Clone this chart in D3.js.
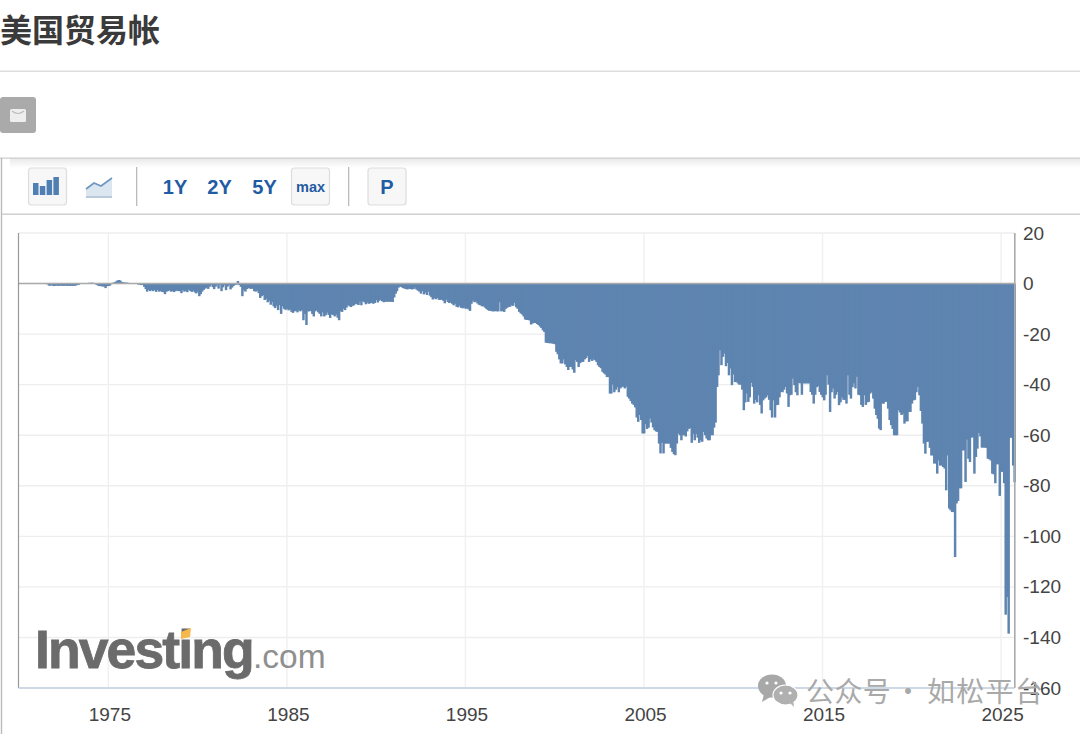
<!DOCTYPE html>
<html><head><meta charset="utf-8">
<style>html,body{margin:0;padding:0;background:#fff;overflow:hidden}svg{display:block}</style>
<script src="https://cdn.jsdelivr.net/npm/d3@7"></script></head><body>
<svg id="c" width="1080" height="734"></svg>
<script>
const title = "美国贸易帐";
const rangeLabels = ["1Y","2Y","5Y"];
const xTickYears = [1975,1985,1995,2005,2015,2025];
const yTicks = [20,0,-20,-40,-60,-80,-100,-120,-140,-160];
const firstYear = 1970;
// Monthly balance (billions USD), one row per year on the axis
const y1970s = [
 [0,0,0,0.2,0.2,0.2,0.2,0.2,0.2,0.2,0.1,0.1],
 [0.1,0,0,0,0,0,-0.2,-0.3,-0.8,-0.9,-0.4,-1],
 [-0.9,-0.8,-0.9,-0.9,-0.8,-0.9,-0.9,-0.8,-0.9,-0.9,-0.9,-0.9],
 [-0.9,-0.9,-0.8,-0.6,-0.5,0,0,0,0,0.1,0.2,0.3],
 [0.3,0.3,0.3,0.2,-0.5,-0.8,-1,-1,-1.2,-1.1,-1.8,-1],
 [-1,-0.8,-0.2,0.3,0.5,0.8,1.2,1.4,1.2,0.6,0.5,0.4],
 [0.4,0.3,0,-0.1,0,-0.1,-0.1,-0.1,-0.4,-0.4,-0.6,-0.5],
 [-1.3,-2.2,-3.2,-2.5,-3,-2.6,-3,-2.5,-3.3,-2.6,-3.2,-3],
 [-3.3,-3.4,-4.2,-3.2,-3,-2.7,-3.2,-3,-3.4,-3,-2.8,-3],
 [-3,-3.8,-2.5,-3.2,-2.9,-3.4,-2.4,-2.9,-3.3,-2.8,-3.5,-3.9]];
const y1980s = [
 [-3.3,-5,-4.2,-3.2,-2.5,-2,-1.6,-2.1,-1.2,-0.5,-1.4,-2.2],
 [-1.2,-0.4,-2,-0.4,-3,-1.5,-0.6,-2.6,-1.2,-0.6,-2.3,-1.6],
 [-1,-0.5,-0.5,1,-0.6,-1.3,-5,-2.6,-3.2,-2.2,-1.8,-2],
 [-2.1,-2,-3,-3.2,-2.8,-3.8,-5.7,-5,-4.6,-6.5,-6,-7.4],
 [-6.8,-8.4,-7.3,-9,-9.7,-8.8,-10.5,-8.5,-12,-9,-10,-10.4],
 [-10,-10.6,-10.2,-11.2,-11.6,-11,-10.8,-11.4,-10.6,-11,-10.5,-14.5],
 [-12,-16.4,-11,-11,-10.8,-12,-13,-11,-10.6,-11.4,-12,-13],
 [-11.4,-13,-12.5,-11.5,-12.4,-13.6,-12.2,-12.4,-13,-12.3,-13.5,-14.5],
 [-11,-11.2,-10,-10.5,-9.5,-8.5,-9,-9.3,-8.8,-8.6,-8,-8.2],
 [-8.5,-7.2,-8.6,-7,-7.4,-8.2,-7.6,-8,-7.8,-7.6,-8,-7.7]];
const y1990s = [
 [-6.6,-7.5,-6.8,-6.5,-7,-7.4,-7.2,-7.2,-7.2,-7.2,-7.2,-7.3],
 [-5.5,-4,-3,-1.6,-1.2,-1.4,-1.8,-2,-2.2,-2.3,-2,-2.2],
 [-2.3,-2.2,-1.6,-2.4,-2.8,-3.2,-4,-3,-4.3,-3.6,-4.5,-3.2],
 [-4.8,-5.4,-6.3,-5.8,-6.2,-5.7,-6.4,-6.5,-6.3,-6.8,-7.8,-6.4],
 [-7.3,-7.7,-7.5,-8,-8.6,-8,-9.2,-9.4,-8.8,-9.6,-9.8,-9.5],
 [-10,-9.8,-10.2,-10.8,-8,-6.8,-7.4,-7.2,-7.9,-8.4,-8.6,-9],
 [-9,-9.5,-10,-10.5,-10.8,-10.8,-11,-11,-10.9,-11,-11,-7.4],
 [-11,-10.9,-11.2,-10,-9.6,-9.2,-9.2,-8.6,-8.8,-7.6,-9.4,-10],
 [-11.2,-11.8,-12.2,-13,-14.2,-14.4,-14.4,-14.6,-16.2,-15.8,-15.6,-15.6],
 [-16,-16.4,-17,-17.6,-18.5,-19.2,-23.4,-23.5,-23.6,-23.6,-23.7,-23.8]];
const y2000s = [
 [-24,-27,-28,-30,-31.6,-31.6,-30,-32,-33,-34.2,-33,-33],
 [-34,-35.3,-30.3,-31,-33,-31.5,-31,-31,-30,-29.5,-28.7,-31],
 [-30,-30.6,-30,-30.3,-31,-32.3,-33,-33.5,-34.9,-35.5,-36,-37],
 [-37,-43.5,-43.5,-40,-43,-42,-41,-43,-41.5,-41,-40.8,-41.5],
 [-40.8,-44.8,-45.5,-46.5,-47.5,-48,-49,-53,-54.7,-52,-54,-59.3],
 [-59.3,-55.6,-57.5,-57,-53.4,-55,-56.9,-58,-58.5,-58.7,-63.3,-67.2],
 [-63,-67.2,-63.3,-63.3,-63.3,-63.3,-65,-66.6,-67.5,-67.9,-63.3,-59.3],
 [-60,-62,-60,-60,-60.5,-58.5,-57.5,-57.2,-63,-59.5,-62,-59.5],
 [-61,-63,-62,-62.6,-58.7,-60,-61.3,-62,-62,-60,-60,-57],
 [-55,-40.9,-36.3,-26.4,-32.3,-29,-27.7,-32.7,-31.4,-36.3,-33.6,-40.2]];
const y2010s = [
 [-36,-39,-38.9,-39.5,-40,-40,-42,-50.1,-47,-43.5,-46.8,-45],
 [-39.3,-40.9,-47.5,-46,-47,-44.2,-48,-51.4,-46.2,-45.5,-45,-44.2],
 [-46,-50.1,-53,-46.2,-53,-48.1,-48,-45,-42.9,-43,-42,-40.9],
 [-43.5,-48.8,-44.2,-44,-37.6,-40.2,-43,-44.2,-39.3,-39.5,-44,-39.5],
 [-39.5,-39.5,-39.5,-39.5,-42.9,-44,-47.5,-44,-41,-40.5,-42.9,-44],
 [-45,-46.2,-44,-36.3,-40,-50.8,-43,-41.5,-45.5,-44,-42.9,-48.1],
 [-47,-45,-46,-46,-47.5,-36.3,-44,-45.5,-41,-39.5,-41.5,-36.9],
 [-44,-44.2,-48,-48.8,-44.2,-48,-47,-46.8,-43.5,-43,-45.5,-49.5],
 [-52,-53.5,-57.4,-58,-47.5,-47.5,-46.8,-46.8,-49.5,-54,-56,-57.5],
 [-60,-60,-60,-50.1,-51,-52,-51.5,-55.4,-54.5,-54.5,-50.8,-50.8]];
const y2020s = [
 [-47.5,-46.2,-46,-43,-40.9,-44.2,-50.4,-55.4,-63.3,-67.3,-62.6,-62.6],
 [-65,-68,-68,-71.2,-71.2,-75.2,-70,-72,-72,-72.6,-73.2,-81.8],
 [-68,-89,-89.7,-90.4,-90.4,-108.2,-87,-86,-81,-81,-66,-66],
 [-78.5,-61.7,-69.3,-70.6,-60.9,-60.9,-75.2,-68.6,-65.3,-59.1,-60.5,-64.9],
 [-64.9,-64.9,-65,-69.3,-69.5,-70,-75.2,-75.5,-79,-71.5,-71.5,-84],
 [-74.5,-74.5,-79,-131,-124,-138.5,-61,-61,-72,-78.6]];

const rows = [...y1970s,...y1980s,...y1990s,...y2000s,...y2010s,...y2020s];
const data = rows.flatMap((r,i)=>r.map((v,m)=>({date:new Date(Date.UTC(firstYear+i,m,1)),v})));

const svg = d3.select("#c");
const font = "'Liberation Sans',Arial,sans-serif";
const L=18.5,R=1014.5,T=233,B=688;
const x = d3.scaleUtc().domain([new Date(Date.UTC(1970,0,1)),new Date(Date.UTC(2025,9,10))]).range([L+.6,R+.4]);
const y = d3.scaleLinear().domain([20,-160]).range([T,B]);
const defs = svg.append("defs");
const sh = defs.append("linearGradient").attr("id","sh").attr("x1",0).attr("x2",0).attr("y1",0).attr("y2",1);
sh.append("stop").attr("offset",0).attr("stop-color","#000").attr("stop-opacity",.09);
sh.append("stop").attr("offset",1).attr("stop-color","#000").attr("stop-opacity",0);

// page chrome
svg.append("text").attr("x",0).attr("y",41.5).attr("font-family","'Noto Sans CJK SC'").attr("font-weight",700)
  .attr("font-size",32).attr("fill","#3a3a3a").text(title);
svg.append("rect").attr("x",0).attr("y",70.5).attr("width",1080).attr("height",1.5).attr("fill","#ddd");
svg.append("rect").attr("x",0).attr("y",97).attr("width",36).attr("height",36).attr("rx",3).attr("fill","#aaa");
svg.append("rect").attr("x",10).attr("y",109).attr("width",16).attr("height",13).attr("rx",1.5).attr("fill","#eee");
svg.append("path").attr("d","M12 111 Q18 116 24 111").attr("fill","none").attr("stroke","#bbb").attr("stroke-width",1.2);

// card
svg.append("rect").attr("x",10).attr("y",158).attr("width",1070).attr("height",10).attr("fill","url(#sh)");
svg.append("rect").attr("x",0).attr("y",157.5).attr("width",1080).attr("height",1.2).attr("fill","#ccc");
svg.append("rect").attr("x",0.8).attr("y",158).attr("width",1.4).attr("height",576).attr("fill","#bbb");
svg.append("rect").attr("x",2).attr("y",213.5).attr("width",1078).attr("height",1.4).attr("fill","#ccc");

function btn(xp,w){svg.append("rect").attr("x",xp).attr("y",168).attr("width",w).attr("height",37).attr("rx",3)
  .attr("fill","#f7f7f7").attr("stroke","#ddd").attr("stroke-width",1.2);}
btn(28.5,38); btn(291.5,38); btn(368,38);
const iconHeights=[12,9,15,18];
iconHeights.forEach((h,i)=>svg.append("rect").attr("x",33+i*6.8).attr("y",195-h).attr("width",5.5).attr("height",h).attr("fill","#4f7fb3"));
svg.append("path").attr("d","M86 189 L94 183 L101 186 L112 178 L112 198 L86 198Z").attr("fill","#dbe6f1");
svg.append("path").attr("d","M86 189 L94 183 L101 186 L112 178").attr("fill","none").attr("stroke","#6e97c2").attr("stroke-width",1.6);
svg.append("rect").attr("x",86).attr("y",196).attr("width",26).attr("height",2).attr("fill","#b9c9da");
[136,348].forEach(p=>svg.append("rect").attr("x",p).attr("y",167).attr("width",1.3).attr("height",39).attr("fill","#bbb"));
const rangeX=[175,219.5,264.5];
rangeLabels.forEach((t,i)=>svg.append("text").attr("x",rangeX[i]).attr("y",193.5).attr("text-anchor","middle")
  .attr("font-family",font).attr("font-weight",700).attr("font-size",20).attr("fill","#1f5ca3").text(t));
svg.append("text").attr("x",310.5).attr("y",191.5).attr("text-anchor","middle").attr("font-family",font).attr("font-weight",700)
  .attr("font-size",14.5).attr("fill","#1f5ca3").text("max");
svg.append("text").attr("x",387).attr("y",193.5).attr("text-anchor","middle").attr("font-family",font).attr("font-weight",700)
  .attr("font-size",20).attr("fill","#1f5ca3").text("P");

// gridlines
const tickDates = xTickYears.map(v=>new Date(Date.UTC(v,0,1)));
svg.append("g").selectAll("line").data(yTicks).join("line")
  .attr("x1",L).attr("x2",R).attr("y1",d=>y(d)).attr("y2",d=>y(d)).attr("stroke","#eee").attr("stroke-width",1.4);
svg.append("g").selectAll("line").data(tickDates).join("line")
  .attr("x1",d=>x(d)).attr("x2",d=>x(d)).attr("y1",T).attr("y2",B).attr("stroke","#f0f0f0").attr("stroke-width",1.4);

// watermark logo sits beneath the series
const logo = svg.append("g");
logo.append("text").attr("x",35).attr("y",668).attr("font-family",font).attr("font-weight",700).attr("font-size",53.5)
  .attr("letter-spacing",-1.9).attr("fill","#6b6b6b").attr("stroke","#6b6b6b").attr("stroke-width",.8).text("Investing");
logo.append("text").attr("x",253).attr("y",668).attr("font-family",font).attr("font-size",33.5)
  .attr("fill","#8f8f8f").text(".com");
logo.append("path").attr("d","M181 632 L191 628 L190 637 L181 639Z").attr("fill","#f7b84b");

// bars
const step = x(new Date(Date.UTC(2001,1,1)))-x(new Date(Date.UTC(2001,0,1)));
svg.append("g").selectAll("rect").data(data).join("rect")
  .attr("x",d=>x(d.date)-step/2-.3).attr("width",step+.95)
  .attr("y",d=>y(Math.max(0,d.v))).attr("height",d=>Math.abs(y(d.v)-y(0)))
  .attr("fill","#5e84b0");

// frame
svg.append("line").attr("x1",L).attr("x2",R).attr("y1",y(0)).attr("y2",y(0)).attr("stroke","#aaa").attr("stroke-width",1.5);
svg.append("line").attr("x1",L).attr("x2",L).attr("y1",T).attr("y2",B).attr("stroke","#999").attr("stroke-width",1.2);
svg.append("line").attr("x1",R+.3).attr("x2",R+.3).attr("y1",T).attr("y2",B).attr("stroke","#aaa").attr("stroke-width",1.6);
svg.append("line").attr("x1",L).attr("x2",R).attr("y1",B).attr("y2",B).attr("stroke","#c0d0e0").attr("stroke-width",1.4);

// axes
const ax = svg.append("g").attr("transform",`translate(0,${B})`)
  .call(d3.axisBottom(x).tickValues(tickDates).tickSize(0).tickPadding(20).tickFormat(d3.utcFormat("%Y")));
const ay = svg.append("g").attr("transform",`translate(${R},0)`)
  .call(d3.axisRight(y).tickValues(yTicks).tickSize(0).tickPadding(8.5).tickFormat(d=>String(d)));
[ax,ay].forEach(g=>{g.select(".domain").remove();
  g.selectAll("text").attr("font-family",font).attr("font-size",19).attr("fill","#444");});
ax.selectAll("text").attr("dx",1);

// WeChat watermark
const wm = svg.append("g");
wm.append("ellipse").attr("cx",772).attr("cy",686).attr("rx",14).attr("ry",11.5).attr("fill","#a8a8a8");
wm.append("path").attr("d","M764 694 L762 702 L772 696Z").attr("fill","#a8a8a8");
wm.append("ellipse").attr("cx",785.5).attr("cy",695).attr("rx",12.5).attr("ry",10).attr("fill","#b0b0b0").attr("stroke","#fff").attr("stroke-width",1.2);
wm.append("path").attr("d","M790 703 L794 707 L793 700Z").attr("fill","#b0b0b0");
[[767,683],[776,683],[781,693],[790,693]].forEach(p=>wm.append("circle").attr("cx",p[0]).attr("cy",p[1]).attr("r",1.6).attr("fill","#fff"));
const wt = wm.append("text").attr("y",702).attr("font-family","'Noto Sans CJK SC'").attr("font-size",28).attr("fill","#a9a9a9");
wt.append("tspan").attr("x",806).attr("letter-spacing",.4).text("公众号");
wt.append("tspan").attr("x",894).text("·");
wt.append("tspan").attr("x",927).attr("letter-spacing",1.3).text("如松平台");
</script></body></html>
